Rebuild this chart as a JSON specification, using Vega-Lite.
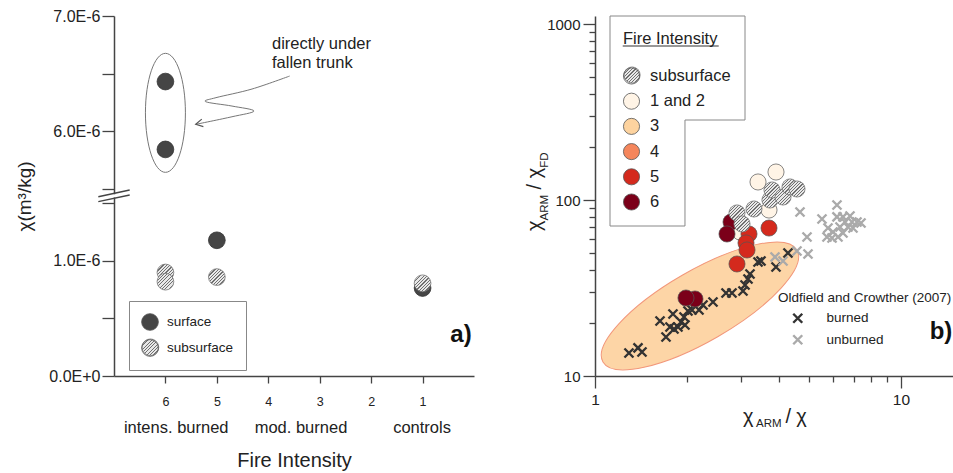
{
 "$schema": "https://vega.github.io/schema/vega-lite/v6.json",
 "padding": {"left": 15, "top": 8, "right": 0, "bottom": 0},
 "spacing": 50,
 "config": {
  "font": "Liberation Sans",
  "view": {"stroke": null},
  "axis": {"grid": false, "labelFlush": false, "labelColor": "#222", "titleColor": "#222", "domainColor": "#444", "tickColor": "#444", "domainWidth": 1.5, "tickWidth": 1.3, "titleFontWeight": "normal", "labelOverlap": false},
  "legend": {"symbolOpacity": 1}
 },
 "resolve": {"scale": {"x": "independent", "y": "independent", "fill": "independent", "stroke": "independent"}, "legend": {"fill": "independent", "stroke": "independent"}},
 "hconcat": [
  {
   "width": 360, "height": 360,
   "encoding": {
    "x": {"field": "x", "type": "quantitative", "scale": {"domain": [0, 7], "reverse": true, "nice": false, "zero": false},
      "axis": {"values": [1, 2, 3, 4, 5, 6], "tickSize": 7, "labelFontSize": 12.5, "labelPadding": 12, "title": "Fire Intensity", "titleFontSize": 20, "titlePadding": 43}},
    "y": {"field": "y", "type": "quantitative", "scale": {"domain": [0, 1.565e-6, 5.435e-6, 7e-6], "range": [360, 180, 180, 0], "nice": false, "zero": false},
      "axis": {"values": [0, 5e-7, 1e-6, 1.5e-6, 5.5e-6, 6e-6, 6.5e-6, 7e-6], "tickSize": 12, "labelPadding": 2, "labelFontSize": 16,
        "labelExpr": "datum.value < 1e-9 ? '0.0E+0' : abs(datum.value - 1e-6) < 1e-9 ? '1.0E-6' : abs(datum.value - 6e-6) < 1e-9 ? '6.0E-6' : abs(datum.value - 7e-6) < 1e-9 ? '7.0E-6' : ''",
        "title": "χ(m³/kg)", "titleFontSize": 19, "titlePadding": 14}}
   },
   "layer": [
    {"data": {"values": [{"x": 6, "y": 6.158e-6}]},
     "mark": {"type": "point", "shape": "M0,-1A0.336,1,0,1,1,0,1A0.336,1,0,1,1,0,-1Z", "size": 14161, "filled": false, "stroke": "#777", "strokeWidth": 1, "opacity": 1}},
    {"data": {"values": [
      {"i": 0, "x": 3.584, "y": 6.478e-6}, {"i": 1, "x": 4.317, "y": 6.365e-6}, {"i": 2, "x": 5.017, "y": 6.290e-6}, {"i": 3, "x": 5.217, "y": 6.255e-6},
      {"i": 4, "x": 4.706, "y": 6.217e-6}, {"i": 5, "x": 4.278, "y": 6.174e-6}, {"i": 6, "x": 4.706, "y": 6.124e-6}, {"i": 7, "x": 5.411, "y": 6.058e-6}]},
     "mark": {"type": "line", "interpolate": "cardinal", "stroke": "#777", "strokeWidth": 1},
     "encoding": {"order": {"field": "i", "type": "quantitative"}}},
    {"data": {"values": [{"x": 5.411, "y": 6.058e-6}]},
     "mark": {"type": "point", "shape": "M1,-0.55L0,0L1,0.55", "size": 196, "angle": 348, "filled": false, "stroke": "#555", "strokeWidth": 1.2, "opacity": 1}},
    {"data": {"values": [{"x": 3.928, "y": 6.757e-6, "t": "directly under"}, {"x": 3.928, "y": 6.591e-6, "t": "fallen trunk"}]},
     "mark": {"type": "text", "align": "left", "baseline": "middle", "fontSize": 16.5, "color": "#222"},
     "encoding": {"text": {"field": "t"}}},
    {"data": {"values": [{"x": 7, "y": 1.552e-6, "x2": 7, "y2": 5.450e-6}]},
     "mark": {"type": "rule", "stroke": "white", "strokeWidth": 4},
     "encoding": {"x2": {"field": "x2"}, "y2": {"field": "y2"}}},
    {"data": {"values": [{"x": 7.305, "y": 1.559e-6, "x2": 6.695, "y2": 5.487e-6}, {"x": 7.305, "y": 1.516e-6, "x2": 6.695, "y2": 5.443e-6}]},
     "mark": {"type": "rule", "stroke": "#444", "strokeWidth": 1.5},
     "encoding": {"x2": {"field": "x2"}, "y2": {"field": "y2"}}},
    {"data": {"values": [{"x": 5.79, "y": 0, "t": "intens. burned"}, {"x": 3.364, "y": 0, "t": "mod. burned"}, {"x": 1.01, "y": 0, "t": "controls"}]},
     "mark": {"type": "text", "align": "center", "baseline": "middle", "dy": 52, "fontSize": 16.5, "color": "#222"},
     "encoding": {"text": {"field": "t"}}},
    {"data": {"values": [{"x": 0.253, "y": 0.357e-6, "t": "a)"}]},
     "mark": {"type": "text", "align": "center", "baseline": "middle", "fontSize": 24, "fontWeight": "bold", "color": "#111"},
     "encoding": {"text": {"field": "t"}}},
    {"data": {"values": [{"x": 6, "y": 6.43e-6, "s": "surface"}, {"x": 6, "y": 5.84e-6, "s": "surface"}, {"x": 5, "y": 1.18e-6, "s": "surface"}, {"x": 1, "y": 0.765e-6, "s": "surface"}]},
     "mark": {"type": "point", "shape": "circle", "filled": true, "size": 280, "stroke": "#333", "strokeWidth": 0.8, "opacity": 1},
     "encoding": {"fill": {"field": "s", "type": "nominal", "scale": {"domain": ["surface", "subsurface"], "range": ["#454545", "transparent"]},
       "legend": {"orient": "none", "legendX": 15, "legendY": 285, "title": null, "strokeColor": "#888", "padding": 12, "symbolSize": 280, "labelFontSize": 13.5, "labelColor": "#222", "rowPadding": 6, "labelOffset": 8, "symbolType": "circle", "symbolStrokeWidth": 0.8, "symbolStrokeColor": "#555"}}}},
    {"data": {"values": [{"x": 6, "y": 0.90e-6}, {"x": 6, "y": 0.82e-6}, {"x": 5, "y": 0.86e-6}, {"x": 1, "y": 0.806e-6}, {"x": 6.292, "y": 0.2496e-6}]},
     "mark": {"type": "point", "shape": "circle", "filled": true, "size": 280, "stroke": "#777", "strokeWidth": 0.8, "opacity": 1,
      "fill": {"gradient": "linear", "x1": 0, "y1": 0, "x2": 1, "y2": 1, "stops": [
            {"offset": 0, "color": "#707070"}, {"offset": 0.035, "color": "#707070"}, {"offset": 0.035, "color": "#e8e8e8"}, {"offset": 0.1, "color": "#e8e8e8"},
            {"offset": 0.1, "color": "#707070"}, {"offset": 0.135, "color": "#707070"}, {"offset": 0.135, "color": "#e8e8e8"}, {"offset": 0.2, "color": "#e8e8e8"},
            {"offset": 0.2, "color": "#707070"}, {"offset": 0.235, "color": "#707070"}, {"offset": 0.235, "color": "#e8e8e8"}, {"offset": 0.3, "color": "#e8e8e8"},
            {"offset": 0.3, "color": "#707070"}, {"offset": 0.335, "color": "#707070"}, {"offset": 0.335, "color": "#e8e8e8"}, {"offset": 0.4, "color": "#e8e8e8"},
            {"offset": 0.4, "color": "#707070"}, {"offset": 0.435, "color": "#707070"}, {"offset": 0.435, "color": "#e8e8e8"}, {"offset": 0.5, "color": "#e8e8e8"},
            {"offset": 0.5, "color": "#707070"}, {"offset": 0.535, "color": "#707070"}, {"offset": 0.535, "color": "#e8e8e8"}, {"offset": 0.6, "color": "#e8e8e8"},
            {"offset": 0.6, "color": "#707070"}, {"offset": 0.635, "color": "#707070"}, {"offset": 0.635, "color": "#e8e8e8"}, {"offset": 0.7, "color": "#e8e8e8"},
            {"offset": 0.7, "color": "#707070"}, {"offset": 0.735, "color": "#707070"}, {"offset": 0.735, "color": "#e8e8e8"}, {"offset": 0.8, "color": "#e8e8e8"},
            {"offset": 0.8, "color": "#707070"}, {"offset": 0.835, "color": "#707070"}, {"offset": 0.835, "color": "#e8e8e8"}, {"offset": 0.9, "color": "#e8e8e8"},
            {"offset": 0.9, "color": "#707070"}, {"offset": 0.935, "color": "#707070"}, {"offset": 0.935, "color": "#e8e8e8"}, {"offset": 1, "color": "#e8e8e8"}]}}}
   ]
  },
  {
   "width": 358, "height": 360,
   "encoding": {
    "x": {"field": "x", "type": "quantitative", "scale": {"type": "log", "domain": [1, 14.79], "nice": false},
      "axis": {"values": [1, 2, 3, 4, 5, 6, 7, 8, 9, 10], "labelExpr": "datum.value == 1 || datum.value == 10 ? format(datum.value, 'd') : ''",
        "tickSize": 12, "tickDash": {"condition": {"test": "datum.value == 1 || datum.value == 10", "value": [20, 1]}, "value": [6, 30]}, "labelFontSize": 15.5, "labelPadding": 4, "title": null}},
    "y": {"field": "y", "type": "quantitative", "scale": {"type": "log", "domain": [10, 1110.4], "nice": false},
      "axis": {"values": [10, 20, 30, 40, 50, 60, 70, 80, 90, 100, 200, 300, 400, 500, 600, 700, 800, 900, 1000],
        "labelExpr": "datum.value == 10 || datum.value == 100 || datum.value == 1000 ? format(datum.value, 'd') : ''",
        "tickSize": 12, "tickDash": {"condition": {"test": "datum.value == 10 || datum.value == 100 || datum.value == 1000", "value": [20, 1]}, "value": [6, 30]}, "labelFontSize": 15, "labelPadding": 3, "title": null}}
   },
   "layer": [
    {"data": {"values": [{"x": 2.203, "y": 25}]},
     "mark": {"type": "point", "shape": "M-1,0A1,0.317,0,1,1,1,0A1,0.317,0,1,1,-1,0Z", "size": 50176, "angle": 330, "filled": true, "fill": "#fdd5a6", "stroke": "#f2977a", "strokeWidth": 1, "opacity": 1}},
    {"data": {"values": [{"i": 0, "x": 1.1195, "y": 1110.4}, {"i": 1, "x": 3.092, "y": 1110.4}, {"i": 2, "x": 3.092, "y": 284.8}, {"i": 3, "x": 1.968, "y": 284.8}, {"i": 4, "x": 1.968, "y": 71.16}, {"i": 5, "x": 1.1195, "y": 71.16}, {"i": 6, "x": 1.1195, "y": 1110.4}]},
     "mark": {"type": "line", "stroke": "#888", "strokeWidth": 1},
     "encoding": {"order": {"field": "i", "type": "quantitative"}}},
    {"data": {"values": [{"x": 1.232, "x2": 2.537, "y": 750}]},
     "mark": {"type": "rule", "stroke": "#333", "strokeWidth": 1.2},
     "encoding": {"x2": {"field": "x2"}}},
    {"data": {"values": [
      {"x": 1.291, "y": 13.51, "src": "burned"}, {"x": 1.382, "y": 14.43, "src": "burned"}, {"x": 1.424, "y": 13.69, "src": "burned"}, {"x": 1.631, "y": 20.54, "src": "burned"},
      {"x": 1.706, "y": 16.66, "src": "burned"}, {"x": 1.758, "y": 18.98, "src": "burned"}, {"x": 1.798, "y": 22.51, "src": "burned"}, {"x": 1.812, "y": 18.49, "src": "burned"},
      {"x": 1.867, "y": 18.98, "src": "burned"}, {"x": 1.910, "y": 20.27, "src": "burned"}, {"x": 1.968, "y": 19.49, "src": "burned"}, {"x": 1.954, "y": 21.64, "src": "burned"},
      {"x": 2.013, "y": 23.40, "src": "burned"}, {"x": 2.075, "y": 23.71, "src": "burned"}, {"x": 2.187, "y": 23.71, "src": "burned"}, {"x": 2.254, "y": 25.32, "src": "burned"},
      {"x": 2.430, "y": 26.33, "src": "burned"}, {"x": 2.680, "y": 29.62, "src": "burned"}, {"x": 2.803, "y": 29.62, "src": "burned"}, {"x": 3.045, "y": 30.41, "src": "burned"},
      {"x": 3.092, "y": 32.89, "src": "burned"}, {"x": 3.162, "y": 35.57, "src": "burned"}, {"x": 3.210, "y": 37.97, "src": "burned"}, {"x": 3.410, "y": 44.43, "src": "burned"},
      {"x": 3.487, "y": 45.02, "src": "burned"}, {"x": 3.904, "y": 41.63, "src": "burned"}, {"x": 4.272, "y": 49.98, "src": "burned"},
      {"x": 3.875, "y": 47.45, "src": "unburned"}, {"x": 4.116, "y": 45.02, "src": "unburned"}, {"x": 4.572, "y": 51.32, "src": "unburned"}, {"x": 4.967, "y": 49.33, "src": "unburned"},
      {"x": 4.930, "y": 61.63, "src": "unburned"}, {"x": 4.677, "y": 85.46, "src": "unburned"}, {"x": 5.518, "y": 77.98, "src": "unburned"}, {"x": 6.177, "y": 93.68, "src": "unburned"},
      {"x": 6.177, "y": 80.09, "src": "unburned"}, {"x": 6.463, "y": 80.09, "src": "unburned"}, {"x": 6.813, "y": 81.14, "src": "unburned"}, {"x": 6.561, "y": 74.99, "src": "unburned"},
      {"x": 6.917, "y": 74.99, "src": "unburned"}, {"x": 7.182, "y": 74.99, "src": "unburned"}, {"x": 7.402, "y": 74.01, "src": "unburned"}, {"x": 6.319, "y": 70.24, "src": "unburned"},
      {"x": 6.711, "y": 70.24, "src": "unburned"}, {"x": 5.773, "y": 69.33, "src": "unburned"}, {"x": 5.995, "y": 65.79, "src": "unburned"}, {"x": 5.730, "y": 61.63, "src": "unburned"},
      {"x": 5.951, "y": 60.83, "src": "unburned"}, {"x": 6.224, "y": 61.63, "src": "unburned"}, {"x": 6.463, "y": 64.94, "src": "unburned"}, {"x": 6.968, "y": 69.33, "src": "unburned"}]},
     "mark": {"type": "point", "shape": "M-1,-1L1,1M-1,1L1,-1", "size": 81, "filled": false, "strokeWidth": 2.4, "opacity": 1},
     "encoding": {"stroke": {"field": "src", "type": "nominal", "scale": {"domain": ["burned", "unburned"], "range": ["#333", "#aaa"]},
       "legend": {"orient": "none", "legendX": 183, "legendY": 275, "title": "Oldfield and Crowther (2007)", "titleFontSize": 13.5, "titleFontWeight": "normal", "titleColor": "#222", "titlePadding": 7,
         "labelFontSize": 13.5, "labelColor": "#222", "padding": 0, "symbolType": "M-1,-1L1,1M-1,1L1,-1", "symbolSize": 81, "symbolStrokeWidth": 2.4, "symbolOffset": 13, "labelOffset": 22, "rowPadding": 1.5}}}},
    {"data": {"values": [
      {"x": 3.410, "y": 126.6, "g": "1 and 2"}, {"x": 3.904, "y": 144.2, "g": "1 and 2"}, {"x": 3.704, "y": 87.7, "g": "1 and 2"}, {"x": 2.978, "y": 65.8, "g": "1 and 2"},
      {"x": 3.704, "y": 69.3, "g": "5"}, {"x": 3.186, "y": 64.1, "g": "5"}, {"x": 3.115, "y": 57.0, "g": "5"}, {"x": 3.139, "y": 52.0, "g": "5"}, {"x": 2.911, "y": 43.3, "g": "5"},
      {"x": 2.783, "y": 75.0, "g": "6"}, {"x": 2.700, "y": 64.1, "g": "6"}, {"x": 2.122, "y": 27.4, "g": "6"}, {"x": 1.983, "y": 27.75, "g": "6"}]},
     "mark": {"type": "point", "shape": "circle", "filled": true, "size": 260, "stroke": "#555", "strokeWidth": 0.7, "opacity": 1},
     "encoding": {"fill": {"field": "g", "type": "nominal", "scale": {"domain": ["subsurface", "1 and 2", "3", "4", "5", "6"], "range": ["transparent", "#fff4e6", "#fdd39f", "#f5865c", "#d42a1d", "#7b0019"]},
       "legend": {"orient": "none", "legendX": 15, "legendY": 2, "title": "Fire Intensity", "titleFontSize": 16.5, "titleFontWeight": "normal", "titleColor": "#222", "titlePadding": 20,
         "labelFontSize": 16.5, "labelColor": "#222", "padding": 13, "symbolType": "circle", "symbolSize": 260, "symbolStrokeColor": "#555", "symbolStrokeWidth": 0.8, "rowPadding": 4.2, "labelOffset": 10}}}},
    {"data": {"values": [{"x": 2.911, "y": 84.4}, {"x": 3.023, "y": 73.1}, {"x": 3.308, "y": 88.9}, {"x": 3.731, "y": 100}, {"x": 3.788, "y": 114.0}, {"x": 4.116, "y": 104.0}, {"x": 4.338, "y": 118.6}, {"x": 4.572, "y": 115.5}, {"x": 1.322, "y": 513}]},
     "mark": {"type": "point", "shape": "circle", "filled": true, "size": 260, "stroke": "#777", "strokeWidth": 0.8, "opacity": 1,
      "fill": {"gradient": "linear", "x1": 0, "y1": 0, "x2": 1, "y2": 1, "stops": [
            {"offset": 0, "color": "#707070"}, {"offset": 0.035, "color": "#707070"}, {"offset": 0.035, "color": "#e8e8e8"}, {"offset": 0.1, "color": "#e8e8e8"},
            {"offset": 0.1, "color": "#707070"}, {"offset": 0.135, "color": "#707070"}, {"offset": 0.135, "color": "#e8e8e8"}, {"offset": 0.2, "color": "#e8e8e8"},
            {"offset": 0.2, "color": "#707070"}, {"offset": 0.235, "color": "#707070"}, {"offset": 0.235, "color": "#e8e8e8"}, {"offset": 0.3, "color": "#e8e8e8"},
            {"offset": 0.3, "color": "#707070"}, {"offset": 0.335, "color": "#707070"}, {"offset": 0.335, "color": "#e8e8e8"}, {"offset": 0.4, "color": "#e8e8e8"},
            {"offset": 0.4, "color": "#707070"}, {"offset": 0.435, "color": "#707070"}, {"offset": 0.435, "color": "#e8e8e8"}, {"offset": 0.5, "color": "#e8e8e8"},
            {"offset": 0.5, "color": "#707070"}, {"offset": 0.535, "color": "#707070"}, {"offset": 0.535, "color": "#e8e8e8"}, {"offset": 0.6, "color": "#e8e8e8"},
            {"offset": 0.6, "color": "#707070"}, {"offset": 0.635, "color": "#707070"}, {"offset": 0.635, "color": "#e8e8e8"}, {"offset": 0.7, "color": "#e8e8e8"},
            {"offset": 0.7, "color": "#707070"}, {"offset": 0.735, "color": "#707070"}, {"offset": 0.735, "color": "#e8e8e8"}, {"offset": 0.8, "color": "#e8e8e8"},
            {"offset": 0.8, "color": "#707070"}, {"offset": 0.835, "color": "#707070"}, {"offset": 0.835, "color": "#e8e8e8"}, {"offset": 0.9, "color": "#e8e8e8"},
            {"offset": 0.9, "color": "#707070"}, {"offset": 0.935, "color": "#707070"}, {"offset": 0.935, "color": "#e8e8e8"}, {"offset": 1, "color": "#e8e8e8"}]}}},
    {"data": {"values": [{"x": 3.045, "y": 5.41, "t": "χ"}, {"x": 4.19, "y": 5.41, "t": "/"}, {"x": 4.55, "y": 5.41, "t": "χ"}]},
     "mark": {"type": "text", "align": "left", "baseline": "alphabetic", "fontSize": 20, "color": "#222"},
     "encoding": {"text": {"field": "t"}}},
    {"data": {"values": [{"x": 3.358, "y": 5.13, "t": "ARM"}]},
     "mark": {"type": "text", "align": "left", "baseline": "alphabetic", "fontSize": 11.5, "color": "#222"},
     "encoding": {"text": {"field": "t"}}},
    {"data": {"values": [{"x": 0.666, "y": 66.7, "t": "χ"}, {"x": 0.666, "y": 114.9, "t": "/"}, {"x": 0.666, "y": 133.0, "t": "χ"}]},
     "mark": {"type": "text", "align": "left", "baseline": "alphabetic", "angle": 270, "fontSize": 20, "color": "#222"},
     "encoding": {"text": {"field": "t"}}},
    {"data": {"values": [{"x": 0.702, "y": 76.5, "t": "ARM"}, {"x": 0.702, "y": 152.4, "t": "FD"}]},
     "mark": {"type": "text", "align": "left", "baseline": "alphabetic", "angle": 270, "fontSize": 11.5, "color": "#222"},
     "encoding": {"text": {"field": "t"}}},
    {"data": {"values": [{"x": 13.51, "y": 17.78, "t": "b)"}]},
     "mark": {"type": "text", "align": "center", "baseline": "middle", "fontSize": 24, "fontWeight": "bold", "color": "#111"},
     "encoding": {"text": {"field": "t"}}}
   ]
  }
 ]
}
